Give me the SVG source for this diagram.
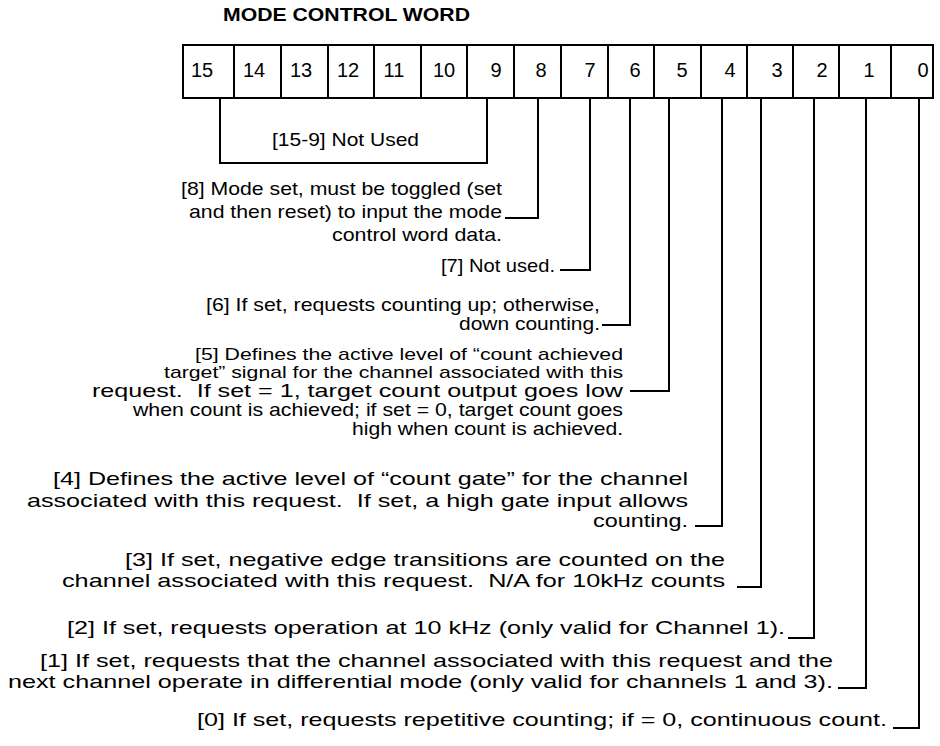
<svg xmlns="http://www.w3.org/2000/svg" width="940" height="746" viewBox="0 0 940 746">
<style>
.t { font-family: "Liberation Sans", Arial, Helvetica, sans-serif; font-size: 19px; fill: #000; }
.s { font-size: 17px; }
.m { font-size: 18.5px; }
.d { font-family: "Liberation Sans", Arial, Helvetica, sans-serif; font-size: 20px; fill: #000; text-anchor: middle; }
.h { font-family: "Liberation Sans", Arial, Helvetica, sans-serif; font-size: 19px; font-weight: bold; fill: #000; }
.c { fill: none; stroke: #000; stroke-width: 2; }
.b { fill: #fff; stroke: #000; stroke-width: 2; }
</style>
<rect width="940" height="746" fill="#fff"/>
<g id="title">
<text class="h" x="223" y="21" textLength="247" lengthAdjust="spacingAndGlyphs">MODE CONTROL WORD</text>
</g>
<g id="register">
<rect class="b" x="183" y="45" width="750" height="53"/>
<path class="c" d="M234,45V98 M281,45V98 M328,45V98 M374,45V98 M421,45V98 M467,45V98 M514,45V98 M561,45V98 M608,45V98 M654,45V98 M701,45V98 M747,45V98 M793,45V98 M839,45V98 M891,45V98"/>
<text class="d" x="202" y="77">15</text>
<text class="d" x="254" y="77">14</text>
<text class="d" x="301" y="77">13</text>
<text class="d" x="348" y="77">12</text>
<text class="d" x="394" y="77">11</text>
<text class="d" x="444" y="77">10</text>
<text class="d" x="496" y="77">9</text>
<text class="d" x="541" y="77">8</text>
<text class="d" x="590" y="77">7</text>
<text class="d" x="635" y="77">6</text>
<text class="d" x="682" y="77">5</text>
<text class="d" x="730" y="77">4</text>
<text class="d" x="777" y="77">3</text>
<text class="d" x="822" y="77">2</text>
<text class="d" x="869" y="77">1</text>
<text class="d" x="923" y="77">0</text>
</g>
<g id="connectors">
<path class="c" d="M220,98V163H487V98"/>
<path class="c" d="M538,98V218H505"/>
<path class="c" d="M590,98V270H560"/>
<path class="c" d="M630,98V325H602"/>
<path class="c" d="M669,98V391H630"/>
<path class="c" d="M722,98V526H695"/>
<path class="c" d="M761,98V587H737"/>
<path class="c" d="M814,98V638H788"/>
<path class="c" d="M866,98V688H838"/>
<path class="c" d="M919,98V728H893"/>
</g>
<g id="bits-15-9">
<text class="t" x="272" y="146" textLength="147" lengthAdjust="spacingAndGlyphs">[15-9] Not Used</text>
</g>
<g id="bit-8">
<text class="t" x="181" y="195" textLength="321" lengthAdjust="spacingAndGlyphs">[8] Mode set, must be toggled (set</text>
<text class="t" x="189" y="218" textLength="313" lengthAdjust="spacingAndGlyphs">and then reset) to input the mode</text>
<text class="t" x="332" y="241" textLength="170" lengthAdjust="spacingAndGlyphs">control word data.</text>
</g>
<g id="bit-7">
<text class="t" x="441" y="272" textLength="114" lengthAdjust="spacingAndGlyphs">[7] Not used.</text>
</g>
<g id="bit-6">
<text class="t" x="206" y="311" textLength="394" lengthAdjust="spacingAndGlyphs">[6] If set, requests counting up; otherwise,</text>
<text class="t" x="459" y="330" textLength="141" lengthAdjust="spacingAndGlyphs">down counting.</text>
</g>
<g id="bit-5">
<text class="t s" x="195" y="360" textLength="428" lengthAdjust="spacingAndGlyphs">[5] Defines the active level of “count achieved</text>
<text class="t s" x="164" y="378" textLength="459" lengthAdjust="spacingAndGlyphs">target” signal for the channel associated with this</text>
<text class="t m" x="92" y="397" textLength="531" lengthAdjust="spacingAndGlyphs" xml:space="preserve">request.  If set = 1, target count output goes low</text>
<text class="t m" x="133" y="416" textLength="490" lengthAdjust="spacingAndGlyphs">when count is achieved; if set = 0, target count goes</text>
<text class="t m" x="352" y="435" textLength="271" lengthAdjust="spacingAndGlyphs">high when count is achieved.</text>
</g>
<g id="bit-4">
<text class="t" x="53" y="485" textLength="635" lengthAdjust="spacingAndGlyphs">[4] Defines the active level of “count gate” for the channel</text>
<text class="t" x="27" y="507" textLength="661" lengthAdjust="spacingAndGlyphs" xml:space="preserve">associated with this request.  If set, a high gate input allows</text>
<text class="t" x="593" y="527" textLength="95" lengthAdjust="spacingAndGlyphs">counting.</text>
</g>
<g id="bit-3">
<text class="t" x="125" y="566" textLength="600" lengthAdjust="spacingAndGlyphs">[3] If set, negative edge transitions are counted on the</text>
<text class="t" x="62" y="587" textLength="663" lengthAdjust="spacingAndGlyphs" xml:space="preserve">channel associated with this request.  N/A for 10kHz counts</text>
</g>
<g id="bit-2">
<text class="t" x="67" y="634" textLength="718" lengthAdjust="spacingAndGlyphs">[2] If set, requests operation at 10 kHz (only valid for Channel 1).</text>
</g>
<g id="bit-1">
<text class="t" x="40" y="667" textLength="793" lengthAdjust="spacingAndGlyphs">[1] If set, requests that the channel associated with this request and the</text>
<text class="t" x="8" y="688" textLength="825" lengthAdjust="spacingAndGlyphs">next channel operate in differential mode (only valid for channels 1 and 3).</text>
</g>
<g id="bit-0">
<text class="t" x="197" y="726" textLength="690" lengthAdjust="spacingAndGlyphs">[0] If set, requests repetitive counting; if = 0, continuous count.</text>
</g>
</svg>
